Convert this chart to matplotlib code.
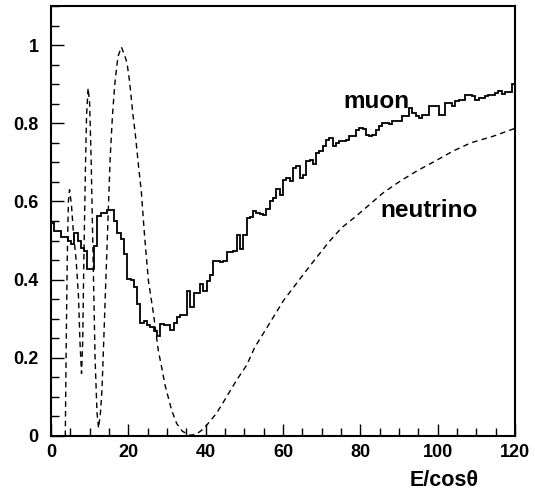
import numpy as np
import matplotlib
matplotlib.use("Agg")
import matplotlib.pyplot as plt
from matplotlib.ticker import MultipleLocator, FuncFormatter

plt.rcParams['font.family'] = ['Liberation Sans', 'DejaVu Sans']
plt.rcParams['font.weight'] = 'bold'

# muon histogram: 140 bins over E/cos(theta) = 0..120
muon_range = (0, 120)
muon = [
    0.546, 0.525, 0.525, 0.508, 0.508, 0.500, 0.490, 0.520, 0.500, 0.482,
    0.474, 0.428, 0.428, 0.487, 0.563, 0.571, 0.571, 0.577, 0.577, 0.550,
    0.520, 0.504, 0.466, 0.402, 0.400, 0.380, 0.338, 0.289, 0.293, 0.285,
    0.280, 0.268, 0.256, 0.286, 0.283, 0.283, 0.270, 0.289, 0.304, 0.310,
    0.310, 0.372, 0.331, 0.365, 0.365, 0.390, 0.372, 0.397, 0.412, 0.447,
    0.447, 0.444, 0.447, 0.470, 0.470, 0.474, 0.515, 0.479, 0.513, 0.557,
    0.560, 0.576, 0.570, 0.567, 0.565, 0.580, 0.601, 0.608, 0.631, 0.617,
    0.656, 0.660, 0.652, 0.685, 0.690, 0.660, 0.668, 0.703, 0.705, 0.695,
    0.724, 0.728, 0.741, 0.758, 0.762, 0.741, 0.750, 0.754, 0.754, 0.758,
    0.767, 0.767, 0.784, 0.788, 0.786, 0.771, 0.767, 0.770, 0.784, 0.792,
    0.801, 0.801, 0.799, 0.805, 0.805, 0.805, 0.818, 0.818, 0.840, 0.826,
    0.818, 0.813, 0.822, 0.822, 0.843, 0.843, 0.843, 0.822, 0.822, 0.852,
    0.852, 0.843, 0.856, 0.860, 0.860, 0.873, 0.873, 0.869, 0.860, 0.865,
    0.865, 0.869, 0.873, 0.873, 0.877, 0.883, 0.875, 0.880, 0.880, 0.900,
]

# neutrino curve (dashed)
nu_e = [3.7, 3.9, 4.2, 4.5, 4.8, 5.3, 5.8, 6.5, 7.1, 7.5, 7.9, 8.2, 8.5, 8.9,
        9.2, 9.6, 10.0, 10.4, 10.9, 11.4, 11.9, 12.3, 12.8, 13.2, 13.7, 14.3,
        14.8, 15.3, 15.9, 16.5, 17.3, 18.2, 19.0, 19.65, 20.3, 21.2, 21.8,
        22.3, 22.75, 23.35, 24.2, 25.2, 26.5, 27.75, 28.6, 29.5, 31.2, 32.5,
        34.0, 35.9, 37.5, 39.0, 40.3, 42.8, 45.4, 48.0, 50.6, 52.75, 54.9,
        57.5, 60.1, 62.7, 65.7, 68.7, 72.1, 75.2, 79.0, 82.5, 85.9, 90.3,
        94.6, 99.3, 104.0, 108.6, 114.4, 120.0]
nu_p = [0.0, 0.2, 0.45, 0.6, 0.63, 0.59, 0.52, 0.45, 0.36, 0.24, 0.16, 0.24,
        0.45, 0.68, 0.82, 0.89, 0.85, 0.7, 0.45, 0.2, 0.06, 0.02, 0.06, 0.12,
        0.26, 0.43, 0.57, 0.71, 0.82, 0.9, 0.97, 0.995, 0.975, 0.955, 0.909,
        0.822, 0.773, 0.724, 0.68, 0.627, 0.512, 0.397, 0.313, 0.219, 0.177,
        0.13, 0.066, 0.032, 0.012, 0.002, 0.004, 0.015, 0.028, 0.058, 0.10,
        0.143, 0.181, 0.228, 0.262, 0.304, 0.346, 0.38, 0.419, 0.457, 0.499,
        0.533, 0.563, 0.593, 0.622, 0.652, 0.678, 0.703, 0.729, 0.75, 0.767,
        0.787]

fig = plt.figure(figsize=(5.35, 5.0), dpi=100)
ax = fig.add_axes([0.0953, 0.128, 0.8673, 0.86])

edges = np.linspace(muon_range[0], muon_range[1], len(muon) + 1)
ax.stairs(muon, edges, baseline=None, color='black', lw=1.3)
ax.plot(nu_e, nu_p, color='black', lw=1.0, dashes=(4, 3))

ax.set_xlim(0, 120)
ax.set_ylim(0, 1.1)

ax.xaxis.set_major_locator(MultipleLocator(20))
ax.xaxis.set_minor_locator(MultipleLocator(5))
ax.yaxis.set_major_locator(MultipleLocator(0.2))
ax.yaxis.set_minor_locator(MultipleLocator(0.05))
ax.yaxis.set_major_formatter(FuncFormatter(lambda v, p: f"{v:g}"))

ax.tick_params(which='both', direction='in', top=False, right=False,
               width=1.0, labelsize=13)
ax.tick_params(which='major', length=9)
ax.tick_params(which='minor', length=5.5)
ax.tick_params(axis='y', which='major', pad=9)
ax.tick_params(axis='x', which='major', pad=6)
for lab in ax.get_xticklabels() + ax.get_yticklabels():
    lab.set_fontweight('bold')

for s in ax.spines.values():
    s.set_linewidth(1.5)

ax.text(75.5, 0.856, "muon", fontsize=17.5, fontweight='bold', va='center')
ax.text(85.1, 0.576, "neutrino", fontsize=17.5, fontweight='bold', va='center')

fig.text(479 / 535, 1 - 481 / 500, "E/cos\u03b8", fontsize=15.5, fontweight='bold',
         ha='right', va='center')

fig.savefig("out.png", dpi=100)
